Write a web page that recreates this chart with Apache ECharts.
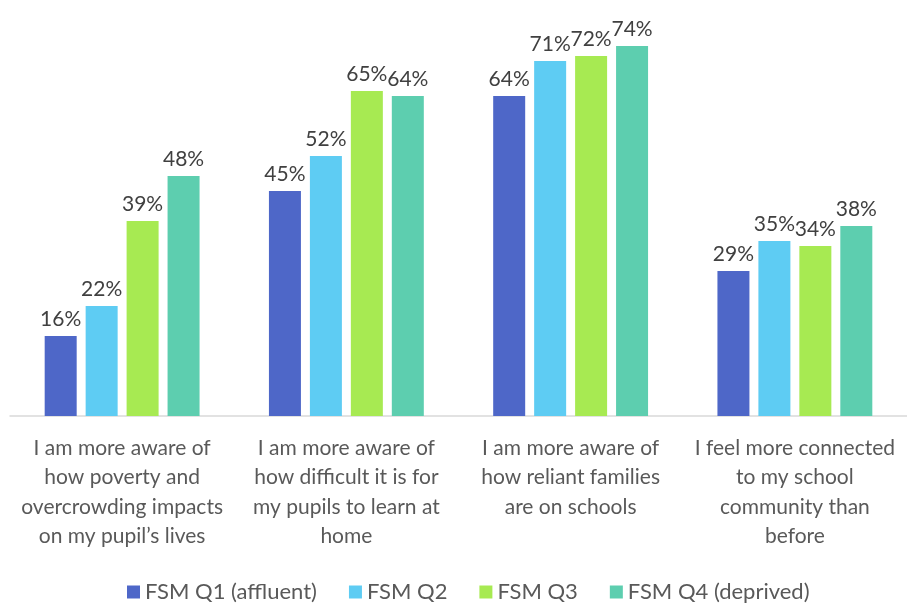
<!DOCTYPE html>
<html>
<head>
<meta charset="utf-8">
<script src="https://cdn.jsdelivr.net/npm/echarts@6/dist/echarts.min.js"></script>
<style>
  html, body { margin: 0; padding: 0; background: #fff; }
  #chart { width: 907px; height: 604px; }
</style>
</head>
<body>
<div id="chart"></div>
<script>
// categories (line breaks as in the picture)
var categories = [
  'I am more aware of\nhow poverty and\novercrowding impacts\non my pupil\u2019s lives',
  'I am more aware of\nhow difficult it is for\nmy pupils to learn at\nhome',
  'I am more aware of\nhow reliant families\nare on schools',
  'I feel more connected\nto my school\ncommunity than\nbefore'
];
var seriesNames = ['FSM Q1 (affluent)', 'FSM Q2', 'FSM Q3', 'FSM Q4 (deprived)'];
var q1 = [16, 45, 64, 29];
var q2 = [22, 52, 71, 35];
var q3 = [39, 65, 72, 34];
var q4 = [48, 64, 74, 38];
var colors = ['#4E67C8', '#5ECCF3', '#A7EA52', '#5DCEAF'];

var font = 'Lato, "Open Sans", sans-serif';
var chart = echarts.init(document.getElementById('chart'));

function makeSeries(name, data, i) {
  return {
    name: name,
    type: 'bar',
    data: data,
    barWidth: 32,
    barGap: '28%',
    itemStyle: { color: colors[i] },
    label: {
      show: true,
      position: 'top',
      distance: 6,
      formatter: '{c}%',
      color: '#404040',
      fontSize: 21,
      fontFamily: font
    }
  };
}

chart.setOption({
  animation: false,
  color: colors,
  grid: { left: 10, right: 0, top: 16, bottom: 188 },
  legend: {
    top: 576,
    left: 122,
    itemWidth: 13,
    itemHeight: 13,
    itemGap: 32,
    icon: 'rect',
    textStyle: { color: '#595959', fontSize: 22, fontFamily: font },
    data: seriesNames
  },
  xAxis: {
    type: 'category',
    data: categories,
    axisTick: { show: false },
    axisLine: { lineStyle: { color: '#d9d9d9', width: 1.5 } },
    axisLabel: {
      interval: 0,
      margin: 17,
      color: '#595959',
      fontSize: 21,
      lineHeight: 29.5,
      fontFamily: font
    }
  },
  yAxis: {
    type: 'value',
    min: 0,
    max: 80,
    show: false,
    splitLine: { show: false }
  },
  series: [
    makeSeries(seriesNames[0], q1, 0),
    makeSeries(seriesNames[1], q2, 1),
    makeSeries(seriesNames[2], q3, 2),
    makeSeries(seriesNames[3], q4, 3)
  ]
});
</script>
</body>
</html>
